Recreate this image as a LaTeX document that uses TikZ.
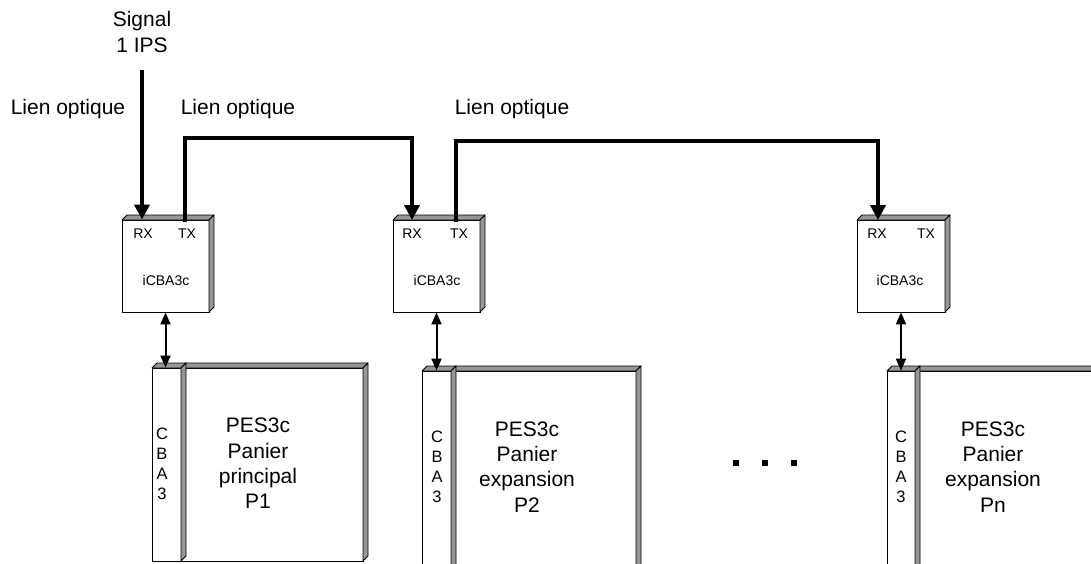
\documentclass[tikz,border=0pt]{standalone}
\usepackage{fontspec}
\setmainfont{Liberation Sans}
\usetikzlibrary{arrows.meta}
\definecolor{facegray}{RGB}{150,150,150}
\newcommand\boxfaces[5]{%
  \filldraw[face] (#1,#2) -- (#1+#5,#2-#5) -- (#3+#5,#2-#5) -- (#3,#2) -- cycle;
  \filldraw[face] (#3,#2) -- (#3+#5,#2-#5) -- (#3+#5,#4-#5) -- (#3,#4) -- cycle;}
\begin{document}
\begin{tikzpicture}[x=1pt,y=-1pt,
  face/.style={fill=facegray,draw=black,line width=0.9pt,line join=round},
  front/.style={draw=black,fill=white,line width=0.9pt,inner sep=0pt,rectangle},
  fiber/.style={line width=4pt,-{Triangle[width=15pt,length=15pt]}},
  link/.style={line width=2pt,{Triangle[width=10pt,length=12pt]}-{Triangle[width=10pt,length=12pt]}},
  big/.style={font=\fontsize{21}{25.3}\selectfont,align=center,inner sep=0pt},
  small/.style={font=\fontsize{14}{16}\selectfont,inner sep=0pt},
  vert/.style={font=\fontsize{16.5}{20}\selectfont,align=center,inner sep=0pt}]
\useasboundingbox (0,0) rectangle (1091,564);
\clip (0,0) rectangle (1091,564);

% iCBA3c boxes
\node[front,minimum width=87pt,minimum height=92pt] (i1) at (165.5,266) {};
\boxfaces{122}{220}{209}{312}{5}
\node[front,minimum width=87pt,minimum height=92pt] (i2) at (436.5,266) {};
\boxfaces{393}{220}{480}{312}{5}
\node[front,minimum width=88pt,minimum height=92pt] (i3) at (901,266) {};
\boxfaces{857}{220}{945}{312}{5}

\node[small] (rx1) at (143,234) {RX};
\node[small] (tx1) at (187,234) {TX};
\node[small] (n1) at (166,280) {iCBA3c};
\node[small] (rx2) at (412,234) {RX};
\node[small] (tx2) at (459,234) {TX};
\node[small] (n2) at (437,280) {iCBA3c};
\node[small] (rx3) at (877,234) {RX};
\node[small] (tx3) at (926,234) {TX};
\node[small] (n3) at (900,280) {iCBA3c};

% PES3c racks
\node[front,minimum width=182pt,minimum height=193pt] (p1) at (272,464.5) {};
\boxfaces{181}{368}{363}{561}{5}
\node[front,minimum width=29pt,minimum height=193pt] (c1) at (166.5,464.5) {};
\boxfaces{152}{368}{181}{561}{5}

\node[front,minimum width=185pt,minimum height=219pt] (p2) at (543.5,480.5) {};
\boxfaces{451}{371}{636}{590}{5}
\node[front,minimum width=29pt,minimum height=219pt] (c2) at (436.5,480.5) {};
\boxfaces{422}{371}{451}{590}{5}

\node[front,minimum width=205pt,minimum height=219pt] (p3) at (1017.5,480.5) {};
\boxfaces{915}{371}{1120}{590}{5}
\node[front,minimum width=28pt,minimum height=219pt] (c3) at (901,480.5) {};
\boxfaces{887}{371}{915}{590}{5}

\node[vert] (v1) at (162,464) {C\\B\\A\\3};
\node[vert] (v2) at (437,467) {C\\B\\A\\3};
\node[vert] (v3) at (901,467) {C\\B\\A\\3};

\node[big] (t1) at (258,463.5) {PES3c\\Panier\\principal\\P1};
\node[big] (t2) at (527,467) {PES3c\\Panier\\expansion\\P2};
\node[big] (t3) at (993,467) {PES3c\\Panier\\expansion\\Pn};

% labels
\node[big] (sig) at (142,32) {Signal\\1 IPS};
\node[big,anchor=base] (l1) at (68,115) {Lien optique};
\node[big,anchor=base] (l2) at (238,115) {Lien optique};
\node[big,anchor=base] (l3) at (512,115) {Lien optique};

% fibre links
\coordinate (src) at (142,70);
\draw[fiber] (src) -- (src |- i1.north);
\coordinate (s1) at (185,222);
\coordinate (k1) at (185,138);
\coordinate (r2) at (412,220);
\draw[fiber] (s1) -- (k1) -| (r2);
\coordinate (s2) at (456,222);
\coordinate (k2) at (456,141);
\coordinate (r3) at (878,220);
\draw[fiber] (s2) -- (k2) -| (r3);

% bus links
\draw[link] (i1.south) -- (i1.south |- c1.north);
\draw[link] (i2.south) -- (i2.south |- c2.north);
\draw[link] (i3.south) -- (i3.south |- c3.north);

% ellipsis
\fill (733,460) rectangle (739,466);
\fill (762,460) rectangle (768,466);
\fill (791,460) rectangle (797,466);
\end{tikzpicture}
\end{document}
